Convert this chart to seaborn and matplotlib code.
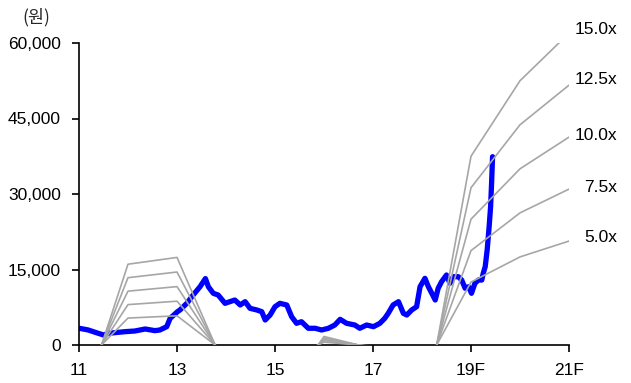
import matplotlib
matplotlib.use("Agg")
import matplotlib.pyplot as plt
import numpy as np
import pandas as pd
import seaborn as sns

# Share price (KRW), by fractional year (11 = 2011)
price_year = [11.02, 11.19, 11.33, 11.50, 11.60, 11.73, 11.94, 12.14, 12.35, 12.55,
              12.65, 12.79, 12.86, 13.01, 13.06, 13.20, 13.33, 13.47, 13.58, 13.64,
              13.74, 13.84, 13.98, 14.08, 14.18, 14.29, 14.39, 14.49, 14.63, 14.73,
              14.80, 14.90, 15.00, 15.10, 15.24, 15.34, 15.44, 15.54, 15.68, 15.82,
              15.95, 16.09, 16.22, 16.33, 16.46, 16.63, 16.73, 16.87, 17.01, 17.14,
              17.24, 17.31, 17.41, 17.52, 17.62, 17.69, 17.79, 17.89, 17.96, 18.06,
              18.13, 18.20, 18.27, 18.33, 18.40, 18.50, 18.57, 18.64, 18.74, 18.81,
              18.88, 18.95, 19.01, 19.08, 19.15, 19.22, 19.25, 19.29, 19.33, 19.37,
              19.40, 19.42, 19.44]
price_value = [3300, 2980, 2520, 1990, 2320, 2450, 2650, 2780, 3180, 2850,
               2980, 3640, 5300, 6620, 6950, 8280, 9935, 11580, 13200, 11580,
               10270, 9935, 8280, 8610, 8940, 7950, 8610, 7290, 6955, 6620,
               4970, 5960, 7610, 8280, 7950, 5620, 4310, 4630, 3320, 3320,
               2980, 3320, 3970, 5100, 4310, 3970, 3320, 3970, 3640, 4310,
               5300, 6290, 7950, 8610, 6290, 5960, 6955, 7610, 11580, 13250,
               11580, 10270, 8940, 11270, 12580, 13910, 12260, 13570, 13570, 12910,
               11270, 11580, 10270, 12260, 12910, 12910, 14250, 15560, 18880, 23500,
               27480, 32130, 37410]

# Annual EPS (KRW) and PER multiples for the band lines
eps_year = [11, 12, 13, 14, 15, 16, 17, 18, 19, 20, 21]
eps_value = [-910, 1070, 1160, -330, -830, 113, -48, -1070, 2500, 3500, 4130]
multiples = [5.0, 7.5, 10.0, 12.5, 15.0]
band_labels = ["5.0x", "7.5x", "10.0x", "12.5x", "15.0x"]

xtick_pos = [11, 13, 15, 17, 19, 21]
xtick_labels = ["11", "13", "15", "17", "19F", "21F"]
ytick_pos = [0, 15000, 30000, 45000, 60000]

sns.set_style("white")
plt.rcParams["font.family"] = ["Liberation Sans", "Noto Sans CJK KR", "DejaVu Sans"]

fig = plt.figure(figsize=(6.31, 3.83), dpi=100)
ax = fig.add_axes([79 / 631, 38 / 383, 490 / 631, 302 / 383])

price_df = pd.DataFrame({"year": price_year, "price": price_value})
sns.lineplot(data=price_df, x="year", y="price", ax=ax, color="#0000ff",
             linewidth=3.8, estimator=None, sort=False, zorder=2)

band_df = pd.DataFrame([
    {"year": y, "price": e * m, "multiple": lab}
    for m, lab in zip(multiples, band_labels)
    for y, e in zip(eps_year, eps_value)
])
sns.lineplot(data=band_df, x="year", y="price", units="multiple", ax=ax,
             color="#a6a6a6", linewidth=1.2, estimator=None, sort=False, zorder=3)

ax.set_xlim(11, 21)
ax.set_ylim(0, 60000)
ax.set_xticks(xtick_pos)
ax.set_xticklabels(xtick_labels)
ax.set_yticks(ytick_pos)
ax.set_yticklabels([f"{v:,}" for v in ytick_pos])
ax.set_xlabel("")
ax.set_ylabel("")

for side in ["top", "right"]:
    ax.spines[side].set_visible(False)
for side in ["left", "bottom"]:
    ax.spines[side].set_color("black")
    ax.spines[side].set_linewidth(1.2)
ax.tick_params(axis="both", which="both", direction="out", length=5, width=1.2,
               colors="black", labelsize=12.5, bottom=True, left=True)
ax.tick_params(axis="y", pad=8)
ax.tick_params(axis="x", pad=8)

# Multiple labels beside the band ends
label_y = {"15.0x": 29, "12.5x": 80, "10.0x": 135, "7.5x": 188, "5.0x": 237}
for lab, ypx in label_y.items():
    fig.text(617 / 631, 1 - ypx / 383, lab, ha="right", va="center", fontsize=12.5,
             color="black")

fig.text(22 / 631, 1 - 17 / 383, "(원)", ha="left", va="center", fontsize=12.5,
         family=["Noto Sans CJK KR", "Liberation Sans"])

fig.savefig("out.png", dpi=100)
